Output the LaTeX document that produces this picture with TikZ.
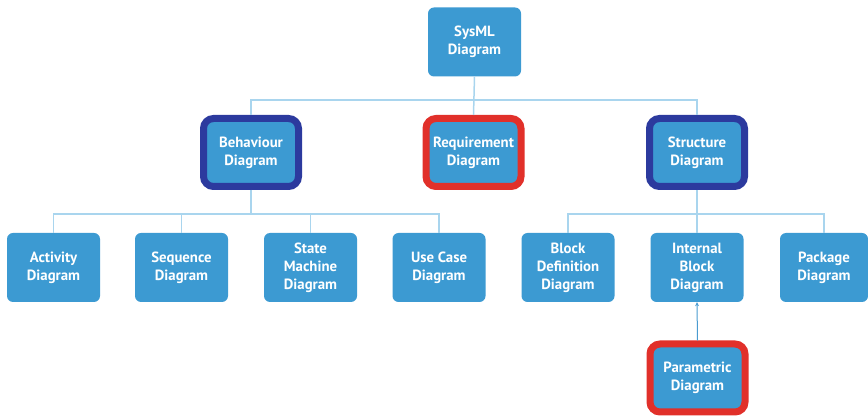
\documentclass[tikz,border=0pt]{standalone}
\usepackage{fontspec}
\setmainfont{PT Sans}
\usetikzlibrary{arrows.meta}
\definecolor{boxblue}{HTML}{3C9AD2}
\definecolor{linkblue}{HTML}{A9D5EE}
\definecolor{arrowblue}{HTML}{4A9BD0}
\definecolor{framenavy}{HTML}{2C3A9E}
\definecolor{framered}{HTML}{E1302A}

\begin{document}
\begin{tikzpicture}[x=1pt,y=-1pt,
  diag/.style={fill=boxblue, rounded corners=6pt, minimum width=93pt,
    minimum height=69pt, inner sep=0pt, align=center, text=white,
    font=\bfseries\fontsize{14.8}{18}\selectfont},
  navyframe/.style={diag, draw=framenavy, line width=7pt,
    minimum width=95pt, minimum height=68pt, rounded corners=10pt},
  redframe/.style={navyframe, draw=framered},
  link/.style={draw=linkblue, line width=1.5pt},
  refine/.style={draw=arrowblue, line width=1pt,
    -{Stealth[length=4pt,width=4pt]}}
]
\useasboundingbox (0,0) rectangle (868,419);

% root
\node[diag] (sysml) at (474.5,42) {SysML\\Diagram};

% second level
\node[navyframe] (behav)  at (251,152.5)   {Behaviour\\Diagram};
\node[redframe]  (req)    at (473.5,152.5) {Requirement\\Diagram};
\node[navyframe] (struct) at (697,152.5)   {Structure\\Diagram};

% behaviour diagrams
\node[diag] (activity) at (53.5,267.5)  {Activity\\Diagram};
\node[diag] (sequence) at (181.5,267.5) {Sequence\\Diagram};
\node[diag] (state)    at (310.5,267.5) {State\\Machine\\Diagram};
\node[diag] (usecase)  at (439,267.5)   {Use Case\\Diagram};

% structure diagrams
\node[diag] (block)    at (568,267.5)   {Block\\Definition\\Diagram};
\node[diag] (internal) at (697,267.5)   {Internal\\Block\\Diagram};
\node[diag, minimum width=88pt] (package) at (824,267.5) {Package\\Diagram};

% parametric
\node[redframe] (param) at (697.5,378) {Parametric\\Diagram};

% bus lines
\coordinate (topbus) at (0,100);
\coordinate (lowbus) at (0,214);

\draw[link] (sysml.south) -- (req.north);
\draw[link] (behav.north) -- (behav.north |- topbus)
  -- (struct.north |- topbus) -- (struct.north);

\draw[link] (behav.south) -- (behav.south |- lowbus);
\draw[link] (activity.north) -- (activity.north |- lowbus)
  -- (usecase.north |- lowbus) -- (usecase.north);
\draw[link] (sequence.north) -- (sequence.north |- lowbus);
\draw[link] (state.north) -- (state.north |- lowbus);

\draw[link] (struct.south) -- (struct.south |- lowbus);
\draw[link] (block.north) -- (block.north |- lowbus)
  -- (package.north |- lowbus) -- (package.north);
\draw[link] (internal.north) -- (internal.north |- lowbus);

\draw[refine] (param.north) -- (internal.south);
\end{tikzpicture}
\end{document}
